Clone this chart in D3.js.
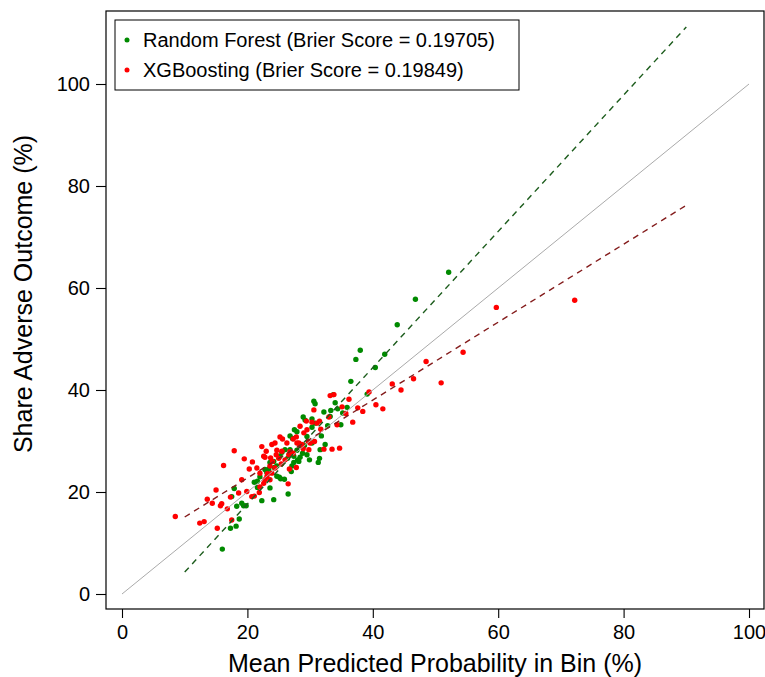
<!DOCTYPE html>
<html>
<head>
<meta charset="utf-8">
<script src="https://cdn.jsdelivr.net/npm/d3@7"></script>
<style>
  html, body { margin: 0; padding: 0; background: #fff; }
  svg { display: block; font-family: "Liberation Sans", Arial, Helvetica, sans-serif; }
</style>
</head>
<body>
<svg id="chart" width="765" height="677"></svg>
<script>
// Calibration bins: mean predicted probability (%) vs observed share (%)
const rfPredicted = [16.0,17.3,18.2,18.7,17.9,18.3,19.1,19.4,19.8,22.3,24.2,26.5,21.1,21.6,21.6,22.0,23.1,23.4,24.3,24.7,
  25.1,25.3,25.9,27.0,27.1,27.4,28.0,28.4,28.8,26.4,25.5,26.8,27.2,28.9,29.2,27.5,27.9,30.3,30.8,30.6,
  30.8,32.2,32.8,31.8,31.5,31.3,32.4,33.7,34.0,33.3,34.4,35.2,34.9,36.5,29.5,29.9,29.1,27.9,23.6,22.8,
  46.8,43.9,38.0,37.3,41.9,40.4,39.1,52.1,35.9,33.2,30.3,29.5,26.0,26.8,25.2,27.4,30.3,31.6,24.2,28.2,
  17.5,23.6,24.7];
const rfObserved = [8.8,12.9,13.3,14.7,20.7,17.2,17.8,17.3,17.3,18.3,18.5,19.6,21.9,22.1,20.9,23.0,23.8,24.5,24.8,25.1,
  22.9,22.6,22.5,24.0,25.1,25.8,26.3,26.8,27.6,26.6,27.8,31.0,30.5,34.7,34.1,32.2,31.8,32.7,33.5,37.8,
  37.3,35.7,33.0,31.0,26.6,25.8,29.3,39.1,37.5,36.0,36.3,35.5,33.2,41.7,27.3,26.3,29.1,28.2,25.8,24.4,
  57.8,52.8,47.8,46.0,47.0,44.4,39.2,63.1,36.6,34.8,34.3,30.9,28.3,28.3,27.0,27.0,29.6,28.3,26.0,26.0,
  19.1,20.8,23.1];

const xgbPredicted = [8.5,12.4,13.1,15.2,17.5,13.6,14.4,15.7,15.9,15.0,16.8,17.3,16.2,17.9,19.1,18.6,19.5,19.9,20.8,20.3,
  21.5,20.7,21.9,22.6,22.3,23.0,22.8,23.2,23.6,24.0,24.4,24.7,25.2,25.6,25.0,25.4,26.0,26.6,27.3,26.7,
  27.8,27.3,27.9,28.4,27.8,28.9,29.7,29.4,30.3,31.1,30.6,30.7,29.8,31.7,32.2,33.0,33.2,33.8,34.7,34.3,
  35.1,36.2,36.8,35.7,26.5,23.6,21.1,22.0,23.1,59.7,54.4,50.9,48.5,46.5,44.5,43.1,41.6,40.5,39.4,38.4,
  37.6,28.4,26.3,72.2,22.8,22.0,23.9,24.4,23.7,24.6,23.9,31.5,28.2,28.7,25.5,26.8,27.1,22.6,30.0,29.0,
  29.5,33.5];
const xgbObserved = [15.2,13.9,14.2,12.9,14.5,18.6,17.8,17.3,17.7,20.4,16.7,19.0,25.2,28.1,22.4,19.8,26.5,20.1,25.9,24.5,
  24.7,19.1,19.9,21.7,28.9,28.0,26.8,23.6,25.1,26.0,29.6,28.2,30.8,30.4,26.6,25.5,26.3,27.3,27.6,24.5,
  24.8,30.4,29.6,29.1,30.8,28.5,29.9,33.9,33.7,33.5,36.1,29.9,28.3,32.3,28.4,34.7,38.9,39.1,28.6,33.2,
  36.7,38.2,33.7,35.4,21.6,22.4,19.2,21.0,23.0,56.2,47.4,41.4,45.6,42.2,40.0,41.2,36.3,37.1,39.6,35.8,
  36.5,32.9,29.6,57.6,22.4,23.7,23.7,24.7,26.7,27.3,29.3,33.9,29.6,29.3,28.0,27.9,27.6,27.0,29.6,31.6,
  32.2,28.4];

// Fitted calibration lines (observed = intercept + slope * predicted), drawn over fitRange
const fitNames = ["Random Forest", "XGBoosting"];
const fitIntercepts = [-9.06, 7.46];
const fitSlopes = [1.336, 0.764];
const fitRange = [10, 90];

const legendLabels = ["Random Forest (Brier Score = 0.19705)", "XGBoosting (Brier Score = 0.19849)"];
const xTicks = [0, 20, 40, 60, 80, 100];
const yTicks = [0, 20, 40, 60, 80, 100];

const pointColors = ["#008a00", "#ff0000"];
const lineColors = ["#1c5c1c", "#841c1c"];

const svg = d3.select("#chart");
const frame = { left: 106, right: 764, top: 11, bottom: 609 };

const x = d3.scaleLinear().domain([0, 100]).range([122, 749]);
const y = d3.scaleLinear().domain([0, 100]).range([594, 84]);

// points
const series = [
  rfPredicted.map((p, i) => ({ p, o: rfObserved[i] })),
  xgbPredicted.map((p, i) => ({ p, o: xgbObserved[i] }))
];
series.forEach((pts, s) => {
  svg.append("g").selectAll("circle").data(pts).join("circle")
    .attr("cx", d => x(d.p))
    .attr("cy", d => y(d.o))
    .attr("r", 2.7)
    .attr("fill", pointColors[s]);
});

// 45-degree reference line
svg.append("line")
  .attr("x1", x(0)).attr("y1", y(0))
  .attr("x2", x(100)).attr("y2", y(100))
  .attr("stroke", "#aaaaaa").attr("stroke-width", 1);

// fitted lines
fitNames.forEach((n, i) => {
  const f = v => fitIntercepts[i] + fitSlopes[i] * v;
  svg.append("line")
    .attr("x1", x(fitRange[0])).attr("y1", y(f(fitRange[0])))
    .attr("x2", x(fitRange[1])).attr("y2", y(f(fitRange[1])))
    .attr("stroke", lineColors[i])
    .attr("stroke-width", 1.4)
    .attr("stroke-dasharray", "6,5");
});

// frame
svg.append("rect")
  .attr("x", frame.left).attr("y", frame.top)
  .attr("width", frame.right - frame.left).attr("height", frame.bottom - frame.top)
  .attr("fill", "none").attr("stroke", "#000").attr("stroke-width", 1.2);

// axes
const xAxis = svg.append("g")
  .attr("transform", `translate(0,${frame.bottom})`)
  .call(d3.axisBottom(x).tickValues(xTicks).tickSize(9).tickSizeOuter(0).tickPadding(7));
const yAxis = svg.append("g")
  .attr("transform", `translate(${frame.left},0)`)
  .call(d3.axisLeft(y).tickValues(yTicks).tickSize(10).tickSizeOuter(0).tickPadding(6));
[xAxis, yAxis].forEach(g => {
  g.select(".domain").remove();
  g.selectAll(".tick line").attr("stroke", "#000").attr("stroke-width", 1.1);
  g.selectAll(".tick text")
    .attr("fill", "#000")
    .style("font-size", "20px")
    .style("font-family", "'Liberation Sans', Arial, Helvetica, sans-serif");
});

// axis titles
svg.append("text")
  .attr("x", (frame.left + frame.right) / 2).attr("y", 672)
  .attr("text-anchor", "middle")
  .style("font-size", "25px")
  .text("Mean Predicted Probability in Bin (%)");
svg.append("text")
  .attr("transform", `translate(32,294) rotate(-90)`)
  .attr("text-anchor", "middle")
  .style("font-size", "25px")
  .text("Share Adverse Outcome (%)");

// legend
const legend = svg.append("g");
legend.append("rect")
  .attr("x", 115).attr("y", 20).attr("width", 404).attr("height", 70)
  .attr("fill", "#fff").attr("stroke", "#000").attr("stroke-width", 1);
legendLabels.forEach((t, i) => {
  legend.append("circle")
    .attr("cx", 127).attr("cy", 40 + i * 30).attr("r", 2.5)
    .attr("fill", pointColors[i]);
  legend.append("text")
    .attr("x", 143).attr("y", 47 + i * 30)
    .style("font-size", "20px")
    .text(t);
});
</script>
</body>
</html>
